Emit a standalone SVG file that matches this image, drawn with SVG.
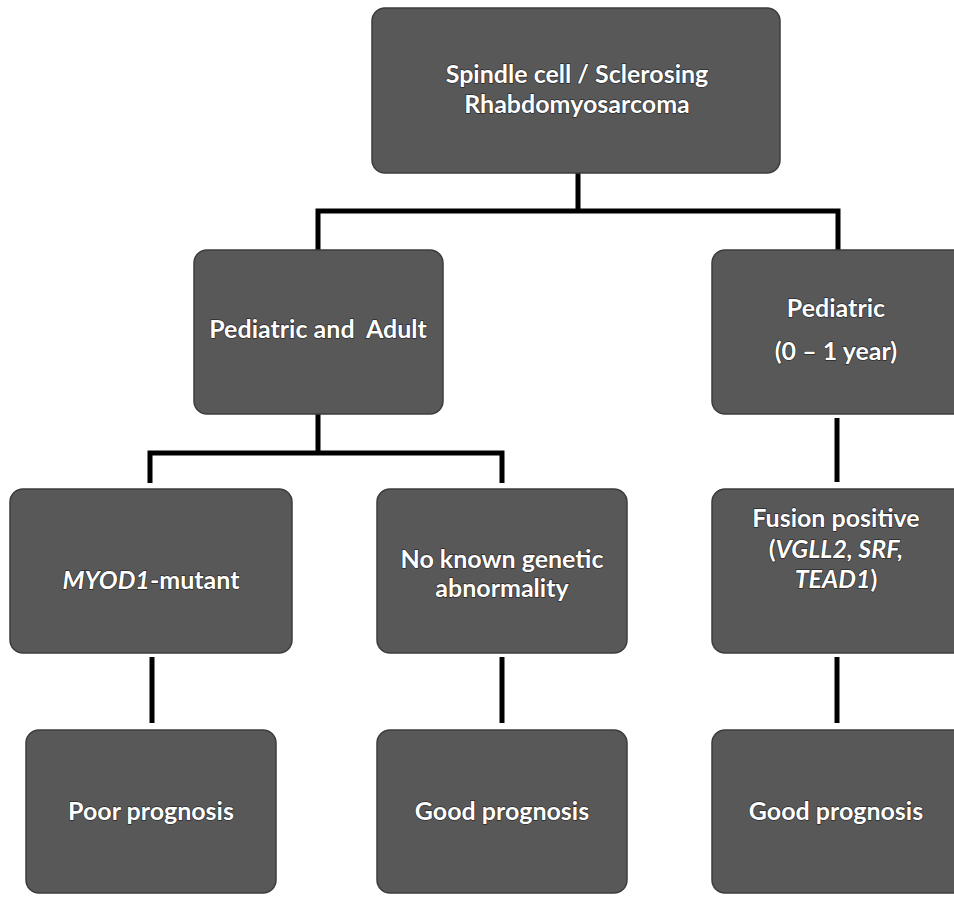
<svg xmlns="http://www.w3.org/2000/svg" width="954" height="897" viewBox="0 0 954 897">
<defs>
<style>
.box{fill:#585858;stroke:#3c3c3c;stroke-width:1.5}
.lbl{font-family:Lato,"Open Sans","DejaVu Sans",sans-serif;font-weight:bold;font-size:25px;fill:#ffffff;text-anchor:middle;paint-order:stroke;stroke:#2a2a2a;stroke-width:1.3px}
.con{stroke:#000;stroke-width:5;fill:none;stroke-linecap:butt;stroke-linejoin:miter}
</style>
</defs>
<rect x="0" y="0" width="954" height="897" fill="#ffffff"/>
<g id="connectors">
<path class="con" d="M578,173 V211 M318,250 V211 H838 V250"/>
<path class="con" d="M318,414 V453 M150,483 V453 H502 V483"/>
<path class="con" d="M837,418 V482"/>
<path class="con" d="M152,657 V723"/>
<path class="con" d="M502,657 V723"/>
<path class="con" d="M837,657 V723"/>
</g>
<g id="n-root">
<rect class="box" x="372" y="8" width="408" height="165" rx="13"/>
<text class="lbl" x="577" y="83">Spindle cell / Sclerosing</text>
<text class="lbl" x="577" y="113">Rhabdomyosarcoma</text>
</g>
<g id="n-ped-adult">
<rect class="box" x="194" y="250" width="249" height="164" rx="13"/>
<text class="lbl" x="318" y="338" xml:space="preserve">Pediatric and  Adult</text>
</g>
<g id="n-ped">
<rect class="box" x="712" y="250" width="260" height="164" rx="13"/>
<text class="lbl" x="836" y="317">Pediatric</text>
<text class="lbl" x="836" y="360">(0 – 1 year)</text>
</g>
<g id="n-myod1">
<rect class="box" x="10" y="489" width="282" height="164" rx="13"/>
<text class="lbl" x="151" y="589"><tspan font-style="italic">MYOD1</tspan>-mutant</text>
</g>
<g id="n-noknown">
<rect class="box" x="377" y="489" width="250" height="164" rx="13"/>
<text class="lbl" x="502" y="568">No known genetic</text>
<text class="lbl" x="502" y="597">abnormality</text>
</g>
<g id="n-fusion">
<rect class="box" x="712" y="489" width="260" height="164" rx="13"/>
<text class="lbl" x="836" y="527">Fusion positive</text>
<text class="lbl" x="836" y="558">(<tspan font-style="italic">VGLL2, SRF,</tspan></text>
<text class="lbl" x="836" y="588"><tspan font-style="italic">TEAD1</tspan>)</text>
</g>
<g id="n-poor">
<rect class="box" x="26" y="730" width="250" height="163" rx="13"/>
<text class="lbl" x="151" y="820">Poor prognosis</text>
</g>
<g id="n-good1">
<rect class="box" x="377" y="730" width="250" height="163" rx="13"/>
<text class="lbl" x="502" y="820">Good prognosis</text>
</g>
<g id="n-good2">
<rect class="box" x="712" y="730" width="260" height="163" rx="13"/>
<text class="lbl" x="836" y="820">Good prognosis</text>
</g>
</svg>
